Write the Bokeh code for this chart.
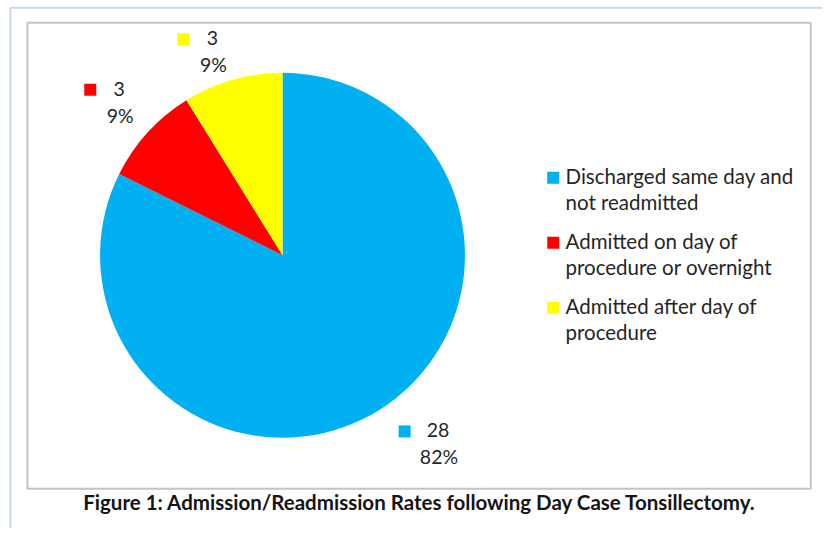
import math
from bokeh.plotting import figure
from bokeh.models import Range1d, ColumnDataSource
from bokeh.core.properties import value
from bokeh.embed import file_html
from bokeh.resources import INLINE

# ---- data ----
categories = ["Discharged same day and not readmitted",
              "Admitted on day of procedure or overnight",
              "Admitted after day of procedure"]
legend_lines = [["Discharged same day and", "not readmitted"],
                ["Admitted on day of", "procedure or overnight"],
                ["Admitted after day of", "procedure"]]
counts = [28, 3, 3]
percent_labels = ["82%", "9%", "9%"]
title_text = "Figure 1: Admission/Readmission Rates following Day Case Tonsillectomy."

# ---- style / layout ----
colors = ["#00B0F0", "#FF0000", "#FFFF00"]
FONT = "Lato"
TXT = "#262626"
W, H = 822, 528
SX, SY = W / 838, H / 544


def px(X):
    return X * SX


def py(Y):
    return H - Y * SY


CX, CY, R = px(287.5), py(262.5), 186 * SX
# label anchor offsets from pie centre (screen px, y down), per slice
label_offsets = [(159.5, 195.5), (-165.5, -156.5), (-70.5, -208.5)]

p = figure(width=W, height=H, output_backend="svg", toolbar_location=None,
           x_range=Range1d(0, W), y_range=Range1d(0, H),
           min_border=0, outline_line_color=None)
p.axis.visible = False
p.grid.visible = False
p.background_fill_color = "white"
p.border_fill_color = "white"

# outer light-blue border (left and top)
p.line([px(10), px(10), W + 5], [-5, py(7.5), py(7.5)], line_color="#C6D8EE", line_width=2)
# inner grey chart border
p.quad(left=px(27.5), right=px(826), top=py(23), bottom=py(503),
       fill_color=None, line_color="#C4C4C4", line_width=2)

# pie
total = sum(counts)
starts, ends, cum = [], [], 0
for c in counts:
    starts.append(math.pi / 2 - 2 * math.pi * cum / total)
    cum += c
    ends.append(math.pi / 2 - 2 * math.pi * cum / total)
src = ColumnDataSource(dict(x=[CX] * 3, y=[CY] * 3, start=starts, end=ends, color=colors))
p.wedge(x="x", y="y", radius=R, start_angle="start", end_angle="end",
        direction="clock", fill_color="color", line_color=None, source=src)

# data labels
for i, (c, pct) in enumerate(zip(counts, percent_labels)):
    ox, oy = label_offsets[i]
    ax, ay = 287.5 + ox, 262.5 + oy
    vx = ax - 1
    sqx = vx - 4.5 * len(str(c)) - 25
    p.rect(x=[px(sqx)], y=[py(ay - 14)], width=12, height=12,
           fill_color=colors[i], line_color=None)
    p.text(x=[px(vx)], y=[py(ay - 15)], text=[str(c)], text_align="center",
           text_baseline="middle", text_font=value(FONT), text_font_size="19.5px",
           text_color=TXT)
    p.text(x=[px(ax)], y=[py(ay + 12)], text=[pct], text_align="center",
           text_baseline="middle", text_font=value(FONT), text_font_size="19.5px",
           text_color=TXT)

# legend
for i, lines in enumerate(legend_lines):
    y0 = 182.5 + 67 * i
    p.rect(x=[px(563.5)], y=[py(y0)], width=12, height=12,
           fill_color=colors[i], line_color=None)
    for j, ln in enumerate(lines):
        p.text(x=[px(576)], y=[py(y0 - 2 + 27 * j)], text=[ln], text_align="left",
               text_baseline="middle", text_font=value(FONT), text_font_size="20.5px",
               text_color=TXT)

# caption
p.text(x=[px(427.5)], y=[py(517)], text=[title_text], text_align="center",
       text_baseline="middle", text_font=value(FONT), text_font_size="20.5px",
       text_font_style="bold", text_color="#151515")

open("out.html", "w").write(file_html(p, INLINE))
